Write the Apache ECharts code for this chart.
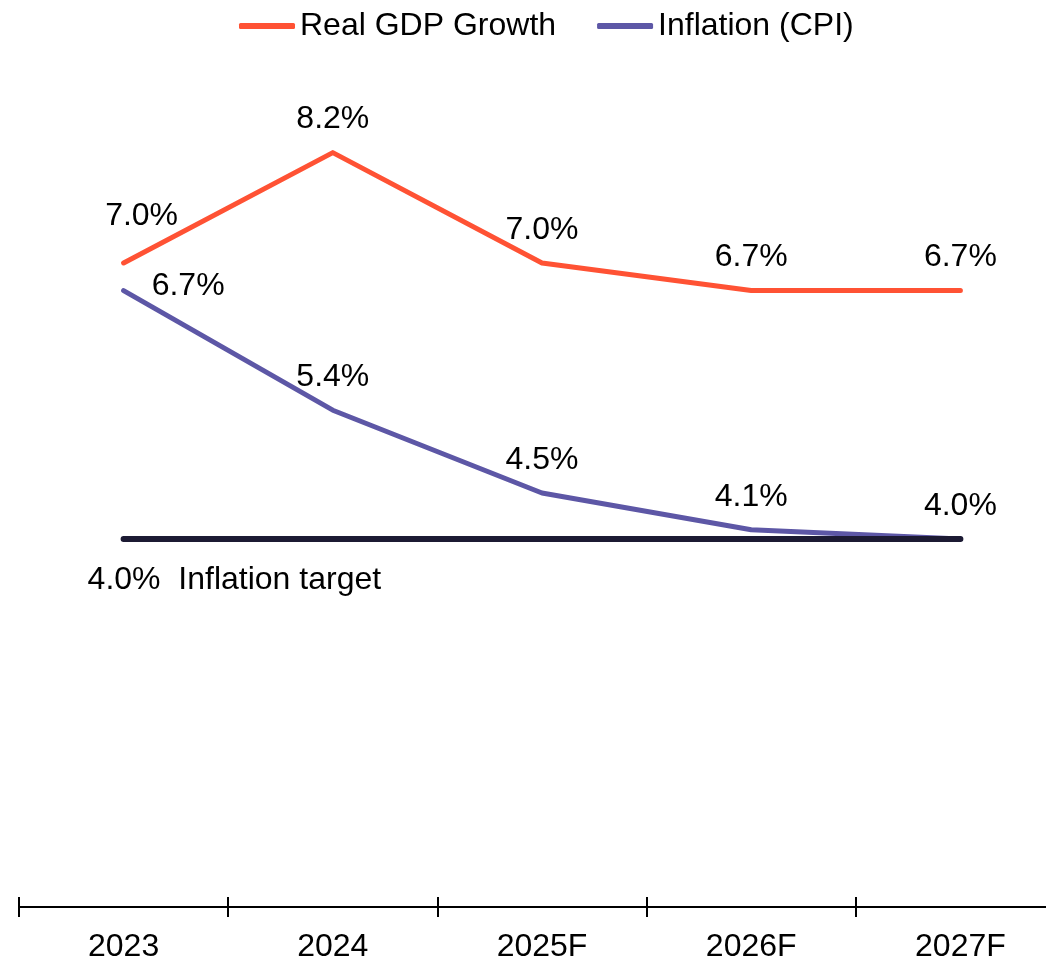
<!DOCTYPE html>
<html>
<head>
<meta charset="utf-8">
<script src="https://cdn.jsdelivr.net/npm/echarts@6/dist/echarts.min.js"></script>
<style>
  html, body { margin: 0; padding: 0; background: #fff; }
  #chart { width: 1046px; height: 957px; }
</style>
</head>
<body>
<div id="chart"></div>
<script>
// Years shown along the bottom axis
const years = ['2023', '2024', '2025F', '2026F', '2027F'];
// Annual rates, %
const gdpGrowth = [7.0, 8.2, 7.0, 6.7, 6.7];
const inflationCpi = [6.7, 5.4, 4.5, 4.1, 4.0];
const inflationTarget = [4.0, 4.0, 4.0, 4.0, 4.0];

const FONT = "'Liberation Sans', Arial, Helvetica, sans-serif";
const FS = 32;
const pct = v => Number(v).toFixed(1) + '%';

// First-year labels are nudged so they do not collide with each other
const gdpData = gdpGrowth.map((v, i) => i === 0
  ? { value: v, label: { offset: [18, -14] } }
  : v);
const cpiData = inflationCpi.map((v, i) => i === 0
  ? { value: v, label: { position: 'right', distance: 28, offset: [0, -4] } }
  : v);
const targetData = inflationTarget.map((v, i) => i === 0
  ? { value: v, label: { show: true, formatter: p => pct(p.value) + '  Inflation target' } }
  : v);

const chart = echarts.init(document.getElementById('chart'), null, { renderer: 'canvas' });

const valueLabel = {
  show: true,
  position: 'top',
  distance: 17,
  formatter: p => pct(p.value),
  color: '#000',
  fontFamily: FONT,
  fontSize: FS
};

chart.setOption({
  animation: false,
  backgroundColor: '#ffffff',
  textStyle: { fontFamily: FONT },
  legend: {
    top: 5,
    left: 234,
    data: ['Real GDP Growth', 'Inflation (CPI)'],
    icon: 'roundRect',
    itemWidth: 56,
    itemHeight: 6,
    itemGap: 41,
    textStyle: { color: '#000', fontFamily: FONT, fontSize: FS }
  },
  // The plot runs past the right edge so the last category is cut off
  grid: { left: 19, width: 1046, top: 79, bottom: 50, outerBoundsMode: 'none', containLabel: false },
  xAxis: [
    {
      type: 'category',
      data: years,
      boundaryGap: true,
      position: 'bottom',
      axisLine: { show: true, lineStyle: { color: '#000', width: 2 } },
      axisTick: { show: true, length: 10, lineStyle: { color: '#000', width: 2 } },
      axisLabel: { color: '#000', fontFamily: FONT, fontSize: FS, margin: 24 },
      splitLine: { show: false }
    },
    {
      type: 'category',
      data: years,
      boundaryGap: true,
      position: 'bottom',
      axisLine: { show: false },
      axisTick: { show: true, inside: true, length: 10, lineStyle: { color: '#000', width: 2 } },
      axisLabel: { show: false },
      splitLine: { show: false }
    }
  ],
  yAxis: {
    type: 'value',
    min: 0,
    max: 9,
    show: false,
    splitLine: { show: false }
  },
  series: [
    {
      name: 'Real GDP Growth',
      type: 'line',
      data: gdpData,
      symbol: 'circle',
      symbolSize: 0.1,
      showSymbol: true,
      lineStyle: { color: '#ff5234', width: 5, cap: 'round', join: 'round' },
      itemStyle: { color: '#ff5234' },
      label: valueLabel,
      z: 3
    },
    {
      name: 'Inflation (CPI)',
      type: 'line',
      data: cpiData,
      symbol: 'circle',
      symbolSize: 0.1,
      showSymbol: true,
      lineStyle: { color: '#5d57a6', width: 5, cap: 'round', join: 'round' },
      itemStyle: { color: '#5d57a6' },
      label: valueLabel,
      z: 3
    },
    {
      name: 'Inflation target',
      type: 'line',
      data: targetData,
      symbol: 'circle',
      symbolSize: 0.1,
      showSymbol: true,
      lineStyle: { color: '#1c1a33', width: 6, cap: 'round' },
      itemStyle: { color: '#1c1a33' },
      label: {
        show: false,
        position: 'bottom',
        align: 'left',
        distance: 5,
        offset: [-36, 20],
        color: '#000',
        fontFamily: FONT,
        fontSize: FS
      },
      z: 4
    }
  ]
});
</script>
</body>
</html>
